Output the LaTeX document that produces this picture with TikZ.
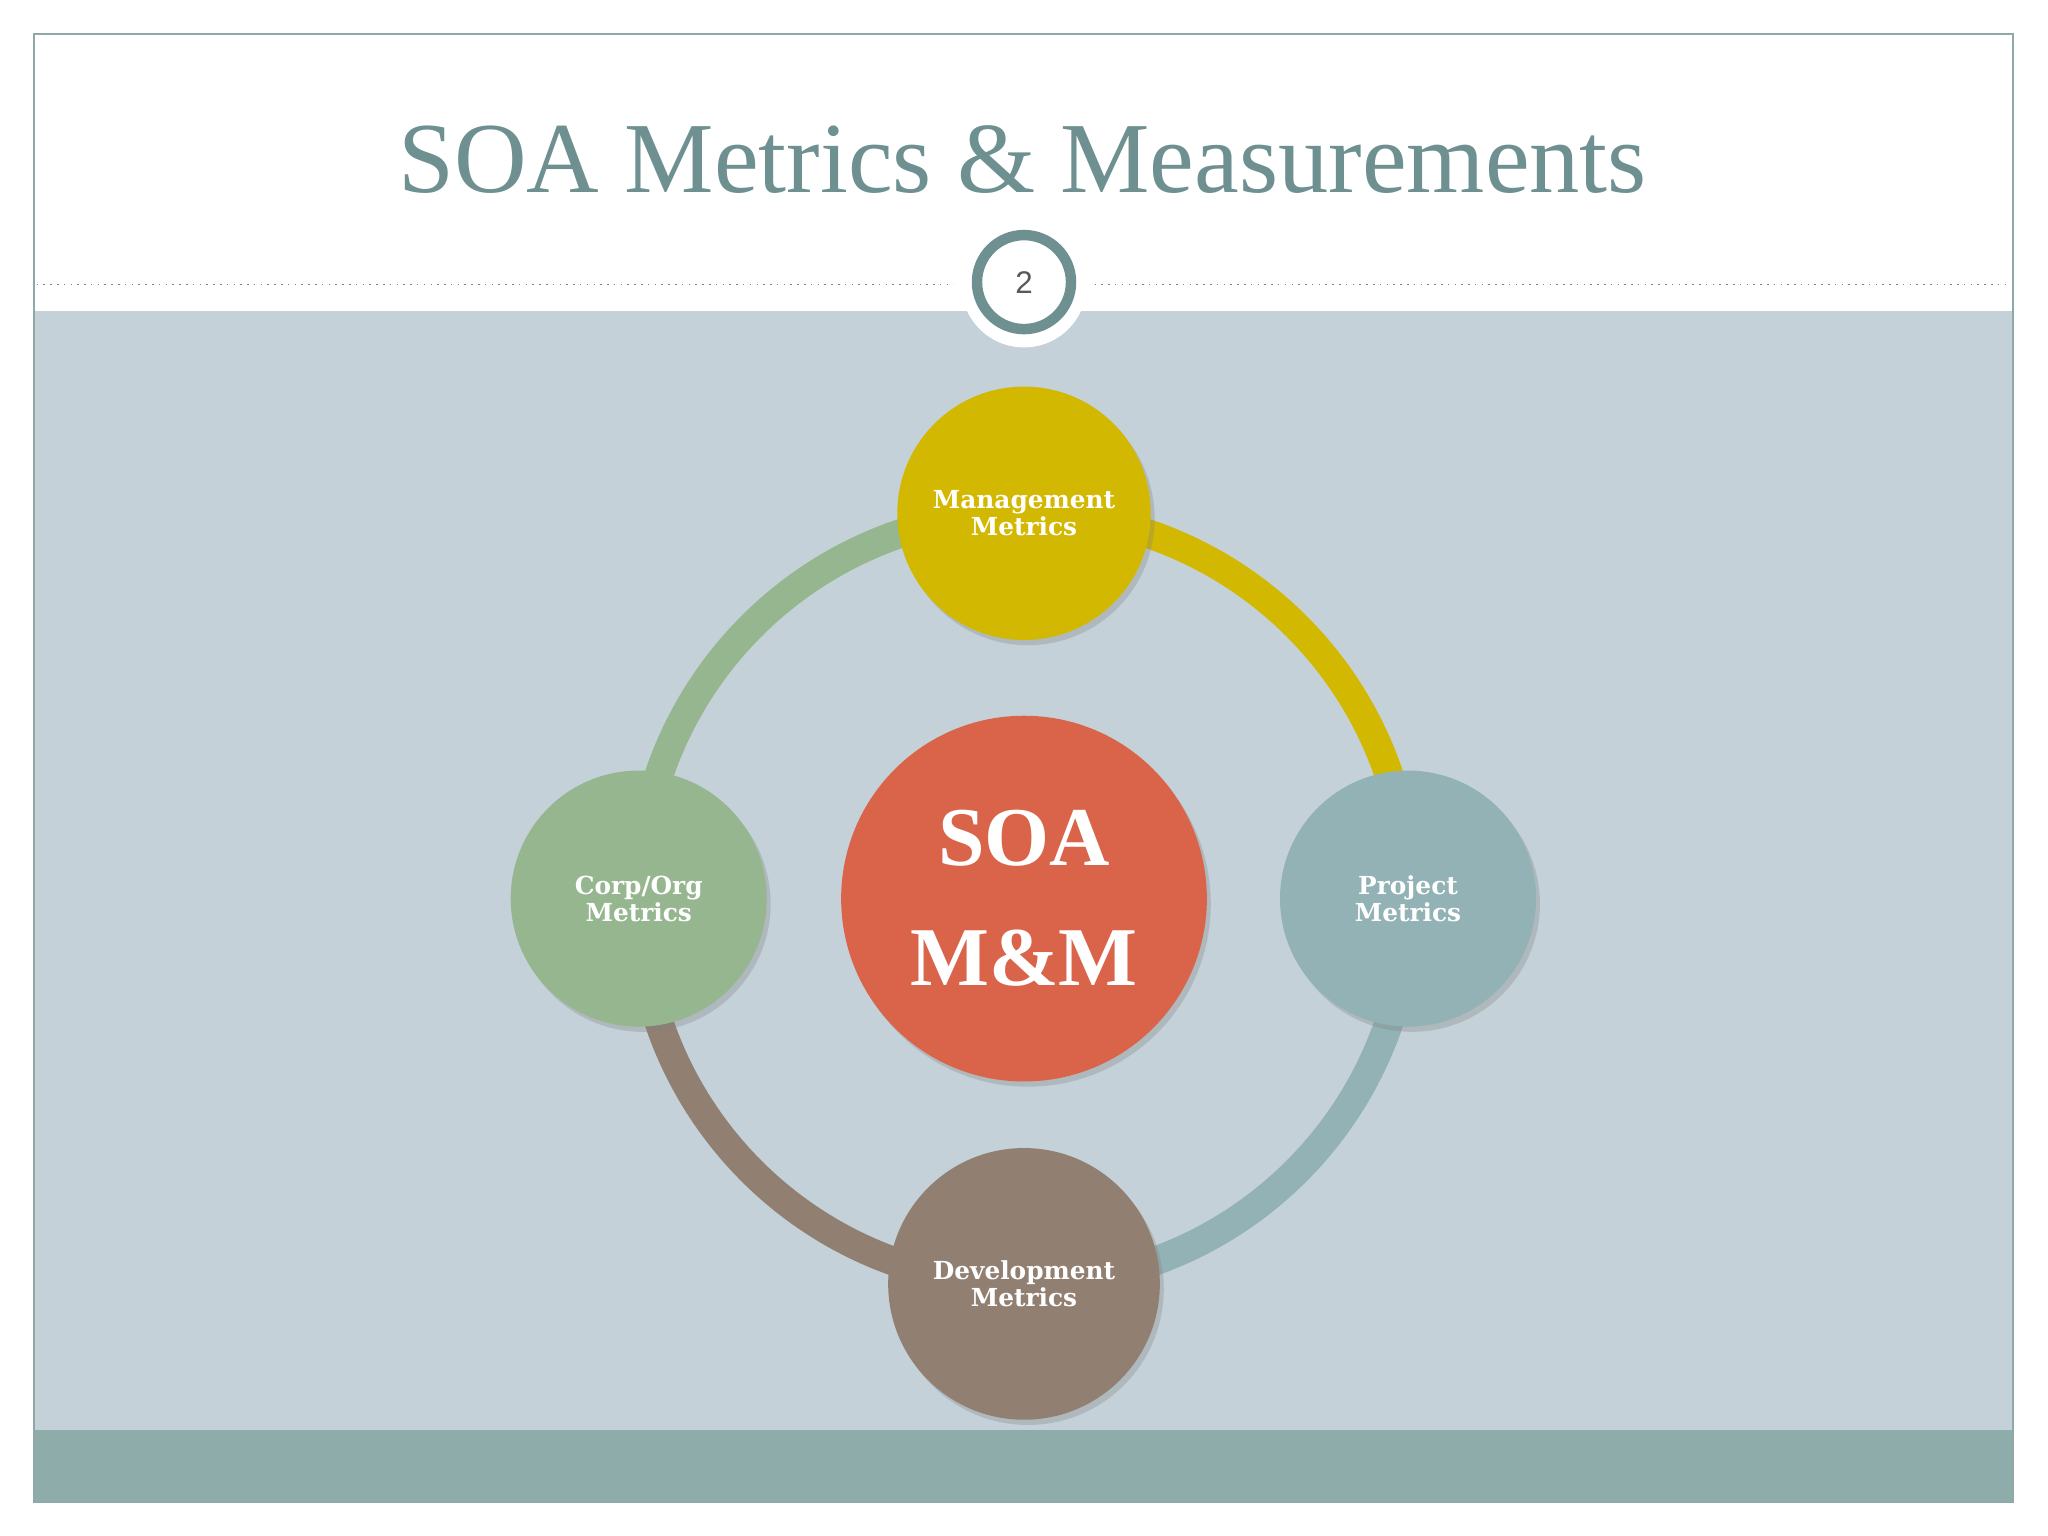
\documentclass[tikz,border=0pt]{standalone}
\usepackage{fontspec}
\setmainfont{Liberation Serif}
\newfontfamily\dvs{DejaVu Serif}
\setsansfont{Liberation Sans}
\usetikzlibrary{shadows}
\definecolor{frame}{HTML}{8FA8A8}
\definecolor{panel}{HTML}{C4D1D8}
\definecolor{band}{HTML}{8EADAA}
\definecolor{titlec}{HTML}{6F9090}
\definecolor{ygold}{HTML}{D2B800}
\definecolor{tealc}{HTML}{92B2B5}
\definecolor{brownc}{HTML}{917F72}
\definecolor{greenc}{HTML}{96B68F}
\definecolor{redc}{HTML}{D9644A}
\tikzset{
  bub/.style={circle,inner sep=0pt,text=white,align=center,
    font=\dvs\bfseries\fontsize{9.5}{9}\selectfont,
    drop shadow={shadow xshift=1.5pt,shadow yshift=-2pt,opacity=0.3}},
  seg/.style={line width=11pt}
}
\begin{document}
\begin{tikzpicture}[x=0.5pt,y=0.5pt]
\useasboundingbox (0,0) rectangle (1568,1176);
\fill[white] (0,0) rectangle (1568,1176);
\fill[panel] (26,81) rectangle (1541,938);
\fill[band] (26,26) rectangle (1541,81);
\draw[frame,line width=0.8pt] (26,26) rectangle (1541,1150);
\node (title) at (783,1054) {\textcolor{titlec}{\fontsize{38.5}{44}\selectfont SOA Metrics \& Measurements}};
\draw[gray,dotted,line width=0.6pt] (28,958) -- (730,958);
\draw[gray,dotted,line width=0.6pt] (838,958) -- (1538,958);
\fill[white] (784,958) circle (48);
\node[circle,draw=titlec,line width=4pt,fill=white,minimum size=36pt,inner sep=0pt,font=\sffamily\fontsize{12}{12}\selectfont,text=gray!70!black] (pg) at (784,960) {2};
% ring
\coordinate (c) at (784,488);
\draw[seg,greenc] (489,488) arc[start angle=180,end angle=90,radius=295];
\draw[seg,ygold] (784,783) arc[start angle=90,end angle=0,radius=295];
\draw[seg,tealc] (1079,488) arc[start angle=0,end angle=-90,radius=295];
\draw[seg,brownc] (784,193) arc[start angle=-90,end angle=-180,radius=295];
% bubbles
\node[bub,fill=ygold,minimum size=97pt] (mgmt) at (784,783) {Management\\Metrics};
\node[bub,fill=tealc,minimum size=98pt] (proj) at (1078,488) {Project\\Metrics};
\node[bub,fill=brownc,minimum size=104pt] (dev) at (784,193) {Development\\Metrics};
\node[bub,fill=greenc,minimum size=98pt] (corp) at (489,488) {Corp/Org\\Metrics};
\node[bub,fill=redc,minimum size=140pt,font=\bfseries\fontsize{32}{46}\selectfont] (soa) at (c) {SOA\\M\&M};
\end{tikzpicture}
\end{document}
